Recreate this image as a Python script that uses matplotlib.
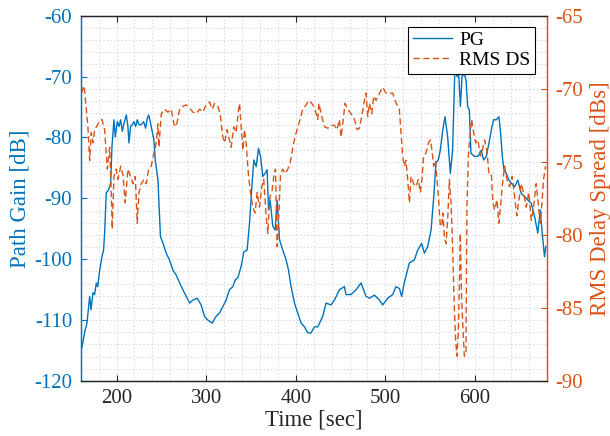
import matplotlib
matplotlib.use("Agg")
import matplotlib.pyplot as plt
from matplotlib.ticker import MultipleLocator

# ---------------- data ----------------
t_pg = [160, 162, 164.5, 167, 170, 171.5, 173.7, 175.5, 177.4, 179, 181, 183.7, 185.5, 186.7,
        188.5, 191.2, 193.4, 194.9, 197.1, 198.6, 200.8, 202.7, 204.6, 206.4, 208.3, 210.9,
        212.7, 213.8, 215.7, 217.5, 219.4, 221.3, 223.1, 225, 227.6, 230.2, 232.5, 234.2,
        235.8, 238, 239.5, 241.7, 243.2, 246.2, 249, 251.7, 255.4, 259, 263, 266.6, 270.4,
        274, 277.7, 281.5, 285.2, 290, 294.4, 298.2, 302, 306.7, 311, 315, 318.6, 322.3, 326,
        329.8, 332.4, 335.4, 339, 342, 345.7, 348.4, 351, 353.2, 355.8, 358.4, 360.7, 363.2,
        365.8, 368, 369.6, 371.4, 374.4, 377, 379.2, 381.9, 385.5, 389.2, 391.9, 394.8, 398.6,
        402.3, 406, 409.7, 413.4, 417, 420.9, 424.6, 430, 433.8, 439.4, 443.2, 448.7, 454.3,
        456, 461.7, 467.3, 472.8, 478.4, 482.2, 487.8, 493.3, 497, 502.6, 508.2, 511.8, 515.6,
        518.2, 521, 526.8, 532.4, 536, 540.5, 543.5, 547.2, 551, 554, 556.4, 559, 561.3, 564,
        566.5, 569.5, 572.5, 575, 577.6, 579.9, 581.4, 583.7, 585.5, 588, 590, 591.8, 593.7,
        595.5, 599.2, 603.3, 607, 609.6, 612.6, 615.5, 618.2, 620.7, 623.7, 626.7, 628.6, 630.5,
        632.3, 634.9, 637.8, 640.5, 644.2, 647.8, 651.6, 655.3, 659, 662.8, 666.5, 670.1, 672.8,
        675, 677.6, 679]
pg = [-115.2, -114.0, -111.9, -110.5, -106.1, -108.3, -105.5, -105.8, -103.9, -104.5, -102.0,
      -99.6, -98.5, -95.7, -89.1, -88.6, -87.5, -81.5, -77.1, -79.9, -77.4, -78.2, -77.1, -79.0,
      -77.7, -76.3, -78.2, -80.9, -78.2, -77.9, -77.4, -78.2, -77.1, -77.9, -77.9, -77.4, -78.5,
      -76.9, -76.3, -77.7, -78.8, -80.4, -83.7, -87.0, -96.3, -97.3, -99.0, -100.1, -101.8,
      -102.6, -103.9, -105.0, -106.1, -107.2, -106.7, -106.4, -107.5, -109.4, -110.0, -110.5,
      -109.4, -108.8, -107.8, -106.7, -105.0, -104.5, -103.4, -103.0, -101.2, -98.8, -98.5,
      -94.0, -88.1, -83.7, -84.8, -81.8, -83.1, -86.4, -85.9, -85.3, -91.9, -90.3, -94.6, -95.2,
      -90.3, -96.8, -98.5, -100.1, -101.8, -104.5, -107.2, -108.9, -110.5, -111.1, -112.1,
      -112.1, -111.1, -111.1, -109.4, -107.2, -107.5, -106.7, -105.0, -104.5, -105.8, -105.8,
      -105.0, -103.9, -106.1, -106.4, -105.9, -106.7, -107.5, -106.4, -105.8, -104.5, -104.8,
      -106.1, -103.9, -100.6, -100.1, -98.5, -97.4, -99.0, -97.9, -95.2, -89.7, -84.2, -83.7,
      -82.1, -78.8, -76.6, -79.9, -85.9, -82.1, -68.4, -70.0, -68.4, -74.9, -70.0, -69.5, -70.6,
      -74.9, -75.5, -82.6, -83.1, -83.1, -82.1, -83.7, -83.1, -81.0, -78.8, -77.1, -77.1, -76.6,
      -79.3, -83.1, -85.3, -85.9, -87.0, -87.5, -88.1, -87.0, -89.2, -89.7, -90.3, -90.8, -93.0,
      -95.7, -91.9, -95.7, -99.6, -97.9]

t_ds = [160.7, 163.7, 166.3, 168, 170, 171.8, 173.7, 175.6, 178.5, 181.2, 183.7, 186.7, 189.7,
        192.3, 194.1, 195.2, 197.1, 199.7, 201.6, 204.6, 207.2, 209.7, 212.7, 215.7, 218.3,
        220.9, 223.1, 225, 227.6, 230.6, 233.1, 235.8, 238.7, 241.7, 244.3, 246.2, 247.3, 249.9,
        253.6, 257.3, 261, 264, 266.6, 270.4, 274, 277.7, 281.5, 285.2, 288.9, 292.7, 296.3,
        300, 303.8, 306.7, 309.4, 313, 315.6, 318.6, 320.5, 323.4, 326, 327.9, 330.9, 333.5,
        336.1, 337.3, 339, 341, 342.8, 344.6, 347.3, 349.5, 352, 354.6, 356.9, 359.5, 362.1,
        364.3, 366.9, 368.8, 371, 373.3, 375.5, 377.4, 379.2, 380.7, 383, 385.5, 388.1, 391.1,
        393.7, 395.6, 396.7, 399.2, 402.3, 405.3, 407.8, 411.5, 414.5, 417.9, 420.9, 424.6,
        425.8, 429, 432, 435.7, 439.4, 443.2, 446.1, 448.7, 450.5, 452.4, 455, 458, 461.7,
        465.5, 468.4, 471, 473.6, 476.6, 478.4, 480.3, 482.2, 484.8, 487, 489.5, 492.2, 495.1,
        497, 500.7, 504.5, 508.2, 510.7, 513.7, 515.6, 517.4, 519.3, 521.2, 523, 524.9, 526.8,
        528.6, 531.6, 534.1, 536.8, 539, 540.8, 542.7, 545.3, 548, 550.2, 552, 553.9, 555.8,
        557.6, 559.4, 561.3, 562.8, 564.2, 565.8, 567.6, 569.5, 571.4, 573.1, 574.3, 575.8,
        576.9, 578.4, 579.8, 581.4, 582.9, 583.6, 585.1, 586.5, 588.1, 589.9, 591, 592.6, 594,
        596.3, 598.5, 600.7, 603.3, 606, 608.2, 610.7, 613.3, 615.5, 618.2, 620, 621.9, 624.5,
        626.7, 629.4, 631.2, 633.1, 635.6, 638.6, 641.6, 644.2, 646.7, 649, 651.6, 654.2,
        657.2, 660, 662.8, 665.3, 668.3, 670.1, 672.8, 675, 676.5, 678.7]
ds = [-70.3, -69.8, -71.4, -72.6, -74.9, -73.0, -73.7, -72.8, -72.5, -72.2, -72.1, -72.8, -75.5,
      -74.0, -77.1, -79.6, -76.0, -75.5, -76.2, -75.3, -75.9, -77.8, -75.5, -76.0, -76.5, -76.0,
      -79.2, -77.1, -76.5, -76.2, -76.5, -75.5, -75.3, -74.4, -73.7, -72.4, -74.0, -71.7, -71.4,
      -71.6, -71.4, -72.4, -72.6, -71.4, -71.2, -71.1, -71.3, -71.6, -71.7, -71.4, -71.6, -71.1,
      -70.9, -71.4, -71.0, -71.2, -71.7, -73.3, -73.7, -72.8, -73.5, -74.0, -72.6, -73.0, -71.4,
      -71.0, -72.6, -74.2, -72.8, -73.7, -76.0, -77.1, -78.1, -78.5, -77.1, -78.1, -76.7, -76.2,
      -78.7, -79.9, -77.4, -77.1, -76.0, -75.5, -80.8, -79.2, -75.8, -75.5, -75.8, -75.5, -75.1,
      -74.4, -74.0, -73.3, -72.6, -72.0, -71.4, -71.1, -70.8, -71.0, -71.3, -72.1, -71.0, -71.9,
      -72.6, -72.7, -72.5, -72.5, -72.8, -72.1, -73.3, -72.4, -71.0, -71.4, -71.7, -72.1, -72.8,
      -72.7, -71.9, -70.8, -70.3, -71.9, -71.0, -71.7, -70.5, -70.8, -70.5, -70.1, -69.9, -70.3,
      -70.3, -70.3, -70.8, -71.2, -71.4, -73.0, -74.6, -75.3, -74.9, -76.2, -77.8, -76.0, -76.5,
      -76.7, -76.2, -77.1, -76.2, -74.6, -74.4, -73.7, -73.5, -74.2, -75.3, -74.9, -76.2, -77.6,
      -79.4, -79.4, -78.5, -80.1, -80.6, -79.0, -76.2, -77.6, -79.4, -82.6, -84.9, -87.2, -88.3,
      -86.7, -82.6, -79.9, -84.4, -86.3, -88.3, -88.2, -78.1, -74.6, -73.5, -72.1, -73.0, -73.7,
      -73.5, -74.6, -74.2, -73.5, -74.2, -75.8, -75.8, -77.8, -78.3, -77.6, -79.2, -77.4, -76.2,
      -75.3, -76.2, -76.7, -76.0, -77.4, -78.7, -77.6, -76.5, -77.1, -78.1, -77.1, -79.0, -78.1,
      -76.5, -77.6, -79.2, -77.6, -76.2, -75.3]

x_ticks = [200, 300, 400, 500, 600]
pg_ticks = [-120, -110, -100, -90, -80, -70, -60]
ds_ticks = [-90, -85, -80, -75, -70, -65]

# ---------------- style ----------------
BLUE = "#0072BD"
ORANGE = "#D95319"
DARK = "#262626"
plt.rcParams["font.family"] = ["Liberation Serif", "DejaVu Serif"]
plt.rcParams["axes.unicode_minus"] = False

fig = plt.figure(figsize=(6.10, 4.36), dpi=100)
ax = fig.add_axes([0.1323, 0.1261, 0.8962 - 0.1323, 0.964 - 0.1261])
ax2 = ax.twinx()

l1, = ax.plot(t_pg, pg, color=BLUE, lw=1.0, label="PG")
l2, = ax2.plot(t_ds, ds, color=ORANGE, lw=1.0, ls=(0, (4.5, 2.5)), label="RMS DS")

ax.set_xlim(160, 680)
ax.set_ylim(-120, -60)
ax2.set_ylim(-90, -65)
ax.set_xticks(x_ticks)
ax.set_yticks(pg_ticks)
ax2.set_yticks(ds_ticks)
ax.xaxis.set_minor_locator(MultipleLocator(20))
ax.yaxis.set_minor_locator(MultipleLocator(2))

ax.grid(True, which="both", ls=(0, (1, 2.5)), color="#c3cedb", lw=0.75)
ax.set_axisbelow(True)

ax.tick_params(axis="x", which="major", direction="in", length=4, width=0.8, top=True,
               colors=DARK, labelsize=15, pad=6)
ax.tick_params(axis="x", which="minor", length=0, top=False)
ax.tick_params(axis="y", which="major", direction="in", length=4, width=0.8,
               colors=BLUE, labelsize=15, pad=6)
ax.tick_params(axis="y", which="minor", length=0)
ax2.tick_params(axis="y", which="major", direction="in", length=4, width=0.8,
                colors=ORANGE, labelsize=15, pad=6)

for a in (ax, ax2):
    a.spines["top"].set_color(DARK)
    a.spines["bottom"].set_color(DARK)
    a.spines["left"].set_color(BLUE)
    a.spines["right"].set_color(ORANGE)
    for s in a.spines.values():
        s.set_linewidth(0.9)

ax.set_xlabel("Time [sec]", fontsize=16.5, color=DARK, labelpad=1)
ax.set_ylabel("Path Gain [dB]", fontsize=16.5, color=BLUE, labelpad=3)
ax2.set_ylabel("RMS Delay Spread [dBs]", fontsize=16.5, color=ORANGE, labelpad=5)

leg = ax2.legend(handles=[l1, l2], loc="upper right", bbox_to_anchor=(0.976, 0.97),
                 fontsize=14, frameon=True, fancybox=False, framealpha=1,
                 edgecolor="black", handlelength=2.0, handletextpad=0.4,
                 labelspacing=0.1, borderpad=0.25, borderaxespad=0.0)
leg.get_frame().set_linewidth(0.8)

fig.savefig("out.png", dpi=100)
